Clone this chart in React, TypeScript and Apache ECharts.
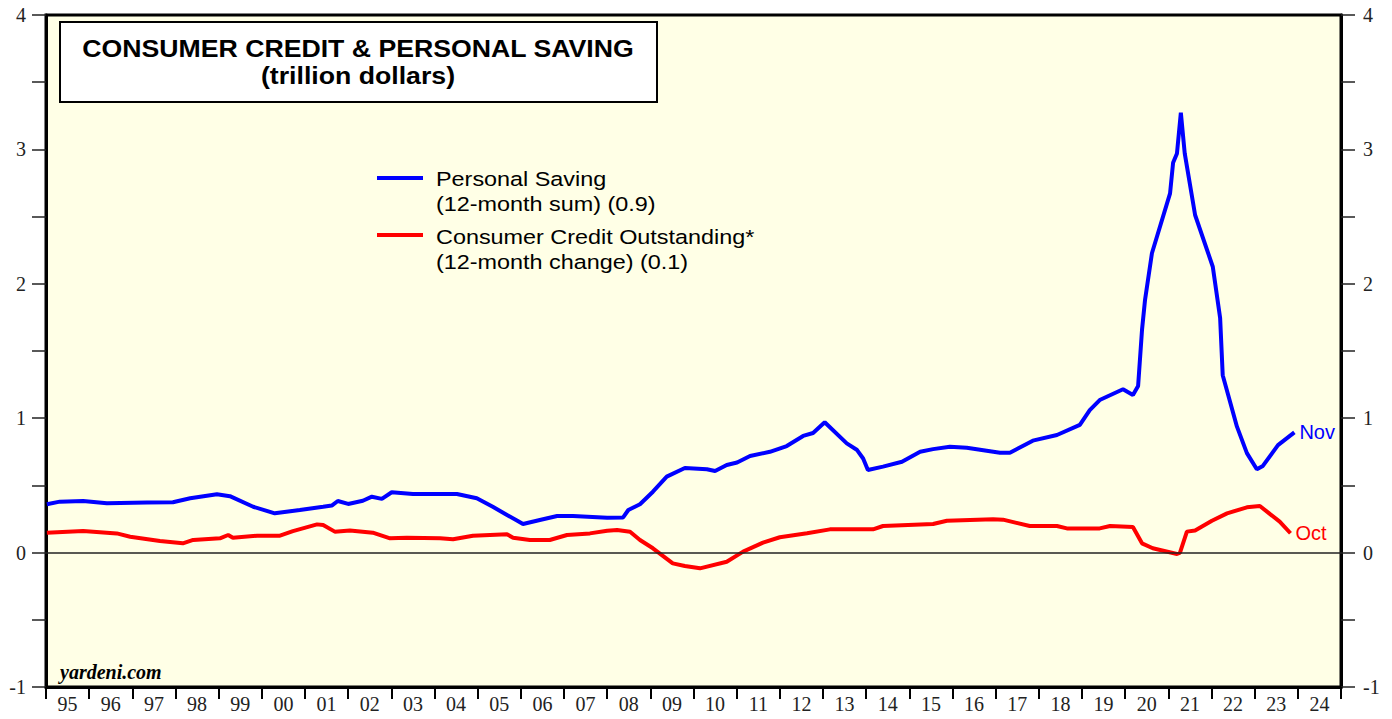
import React, { useEffect, useRef } from "react";
import * as echarts from "echarts";

const yearLabels = ["95","96","97","98","99","00","01","02","03","04","05","06","07","08","09","10","11","12","13","14","15","16","17","18","19","20","21","22","23","24"];

const savingDates = [1995.02,1995.32,1995.86,1996.41,1997.34,1997.94,1998.34,1998.96,1999.26,1999.8,2000.3,2000.88,2001.42,2001.62,2001.76,2002.0,2002.34,2002.55,2002.78,2003.01,2003.5,2004.13,2004.52,2004.98,2005.35,2005.68,2005.93,2006.05,2006.44,2006.84,2007.21,2008.0,2008.37,2008.49,2008.76,2009.06,2009.38,2009.8,2010.31,2010.5,2010.77,2011.01,2011.31,2011.77,2012.16,2012.54,2012.77,2013.04,2013.55,2013.79,2013.93,2014.04,2014.39,2014.83,2015.25,2015.55,2015.94,2016.33,2017.1,2017.33,2017.86,2018.42,2018.95,2019.18,2019.41,2019.95,2020.18,2020.3,2020.39,2020.46,2020.62,2021.04,2021.11,2021.2,2021.29,2021.38,2021.62,2022.03,2022.2,2022.26,2022.59,2022.82,2023.05,2023.19,2023.54,2023.92];
const savingValues = [0.36,0.379,0.384,0.367,0.372,0.375,0.404,0.434,0.42,0.341,0.292,0.317,0.341,0.35,0.384,0.362,0.386,0.416,0.4,0.449,0.436,0.436,0.436,0.404,0.341,0.28,0.235,0.213,0.243,0.272,0.272,0.26,0.262,0.317,0.36,0.453,0.565,0.63,0.62,0.607,0.652,0.67,0.719,0.75,0.793,0.868,0.89,0.97,0.813,0.763,0.7,0.615,0.64,0.676,0.75,0.77,0.788,0.78,0.743,0.743,0.833,0.875,0.95,1.06,1.135,1.215,1.173,1.24,1.656,1.879,2.227,2.673,2.9,2.97,3.273,2.97,2.512,2.127,1.745,1.32,0.937,0.74,0.62,0.645,0.8,0.895];

const creditDates = [1995.02,1995.86,1996.64,1996.95,1997.64,1998.17,1998.41,1999.03,1999.22,1999.33,1999.89,2000.42,2000.72,2001.28,2001.42,2001.69,2002.04,2002.57,2002.97,2003.36,2004.13,2004.43,2004.89,2005.68,2005.82,2006.21,2006.67,2007.07,2007.6,2008.0,2008.23,2008.53,2008.76,2009.06,2009.52,2009.8,2010.15,2010.77,2011.15,2011.61,2012.0,2012.63,2013.16,2014.16,2014.39,2015.55,2015.87,2016.94,2017.17,2017.79,2018.42,2018.65,2019.41,2019.65,2020.18,2020.39,2020.64,2021.2,2021.27,2021.43,2021.62,2022.01,2022.36,2022.82,2023.12,2023.58,2023.83];
const creditValues = [0.148,0.16,0.143,0.118,0.086,0.069,0.094,0.106,0.131,0.11,0.126,0.126,0.16,0.21,0.205,0.156,0.165,0.148,0.106,0.11,0.106,0.099,0.126,0.136,0.11,0.094,0.094,0.131,0.143,0.163,0.168,0.155,0.094,0.032,-0.08,-0.1,-0.117,-0.068,0.007,0.074,0.114,0.144,0.173,0.173,0.198,0.213,0.237,0.248,0.245,0.198,0.198,0.18,0.18,0.198,0.19,0.069,0.032,-0.01,0.0,0.156,0.165,0.237,0.292,0.337,0.347,0.23,0.144];

const SERIF = "'Liberation Serif', 'Times New Roman', serif";
const SANS = "'Liberation Sans', Arial, sans-serif";

export default function App() {
  const ref = useRef<HTMLDivElement>(null);
  useEffect(() => {
    if (!ref.current) return;
    const chart = echarts.init(ref.current, null, { renderer: "svg" });
    const yAxisCommon = {
      type: "value",
      min: -1,
      max: 4,
      interval: 0.5,
      axisLine: { show: true, onZero: false, lineStyle: { color: "#000", width: 3 } },
      axisTick: { show: true, length: 14, lineStyle: { color: "#222", width: 1.5 } },
      splitLine: { show: false },
      axisLabel: {
        fontFamily: SERIF,
        fontSize: 20,
        color: "#222",
        formatter: (v: number) => (Number.isInteger(v) ? String(v) : ""),
      },
    };
    chart.setOption({
      animation: false,
      backgroundColor: "#fff",
      grid: {
        left: 46,
        right: 51,
        top: 15,
        bottom: 32,
        show: true,
        backgroundColor: "#ffffe6",
        borderColor: "#000",
        borderWidth: 3,
      },
      xAxis: [
        {
          type: "category",
          data: yearLabels,
          boundaryGap: true,
          position: "bottom",
          axisLine: { show: true, onZero: false, lineStyle: { color: "#000", width: 3 } },
          axisTick: { show: true, interval: 0, length: 12, lineStyle: { color: "#000", width: 2 } },
          axisLabel: { interval: 0, fontFamily: SERIF, fontSize: 20, color: "#222", margin: 7 },
          splitLine: { show: false },
        },
        { type: "value", min: 1995, max: 2025, show: false, axisLine: { onZero: false } },
      ],
      yAxis: [
        { ...yAxisCommon, position: "left", axisLabel: { ...yAxisCommon.axisLabel, margin: 20 } },
        { ...yAxisCommon, position: "right", axisLabel: { ...yAxisCommon.axisLabel, margin: 22 } },
      ],
      series: [
        {
          name: "Consumer Credit Outstanding",
          type: "line",
          xAxisIndex: 1,
          yAxisIndex: 0,
          data: creditDates.map((d, i) => [d, creditValues[i]]),
          showSymbol: false,
          lineStyle: { color: "#ff0000", width: 4 },
          itemStyle: { color: "#ff0000" },
          endLabel: { show: true, formatter: "Oct", color: "#ff0000", fontFamily: SANS, fontSize: 20, distance: 5 },
          markLine: {
            silent: true,
            symbol: "none",
            label: { show: false },
            lineStyle: { color: "#222", width: 1.5, type: "solid" },
            data: [{ yAxis: 0 }],
          },
          z: 3,
        },
        {
          name: "Personal Saving",
          type: "line",
          xAxisIndex: 1,
          yAxisIndex: 0,
          data: savingDates.map((d, i) => [d, savingValues[i]]),
          showSymbol: false,
          lineStyle: { color: "#0000ff", width: 4 },
          itemStyle: { color: "#0000ff" },
          endLabel: { show: true, formatter: "Nov", color: "#0000ff", fontFamily: SANS, fontSize: 20, distance: 5 },
          z: 4,
        },
      ],
      graphic: [
        {
          type: "rect",
          shape: { x: 60, y: 22, width: 597, height: 80 },
          style: { fill: "#fff", stroke: "#000", lineWidth: 2 },
          z: 10,
        },
        {
          type: "text",
          x: 358,
          y: 49,
          scaleX: 1.16,
          style: { text: "CONSUMER CREDIT & PERSONAL SAVING", font: `bold 23px ${SANS}`, fill: "#000", align: "center", verticalAlign: "middle" },
          z: 11,
        },
        {
          type: "text",
          x: 358,
          y: 76,
          scaleX: 1.16,
          style: { text: "(trillion dollars)", font: `bold 23px ${SANS}`, fill: "#000", align: "center", verticalAlign: "middle" },
          z: 11,
        },
        {
          type: "line",
          shape: { x1: 377, y1: 178, x2: 423, y2: 178 },
          style: { stroke: "#0000ff", lineWidth: 4 },
          z: 11,
        },
        {
          type: "text",
          x: 436,
          y: 180,
          scaleX: 1.2,
          style: { text: "Personal Saving", font: `19.5px ${SANS}`, fill: "#000", align: "left", verticalAlign: "middle" },
          z: 11,
        },
        {
          type: "text",
          x: 436,
          y: 205,
          scaleX: 1.2,
          style: { text: "(12-month sum) (0.9)", font: `19.5px ${SANS}`, fill: "#000", align: "left", verticalAlign: "middle" },
          z: 11,
        },
        {
          type: "line",
          shape: { x1: 377, y1: 235, x2: 423, y2: 235 },
          style: { stroke: "#ff0000", lineWidth: 4 },
          z: 11,
        },
        {
          type: "text",
          x: 436,
          y: 238,
          scaleX: 1.2,
          style: { text: "Consumer Credit Outstanding*", font: `19.5px ${SANS}`, fill: "#000", align: "left", verticalAlign: "middle" },
          z: 11,
        },
        {
          type: "text",
          x: 436,
          y: 263,
          scaleX: 1.2,
          style: { text: "(12-month change) (0.1)", font: `19.5px ${SANS}`, fill: "#000", align: "left", verticalAlign: "middle" },
          z: 11,
        },
        {
          type: "text",
          x: 60,
          y: 672,
          style: { text: "yardeni.com", font: `italic bold 20px ${SERIF}`, fill: "#000", align: "left", verticalAlign: "middle" },
          z: 11,
        },
      ],
    });
    return () => chart.dispose();
  }, []);
  return <div ref={ref} style={{ width: 1392, height: 719, position: "absolute", left: 0, top: 0 }} />;
}
